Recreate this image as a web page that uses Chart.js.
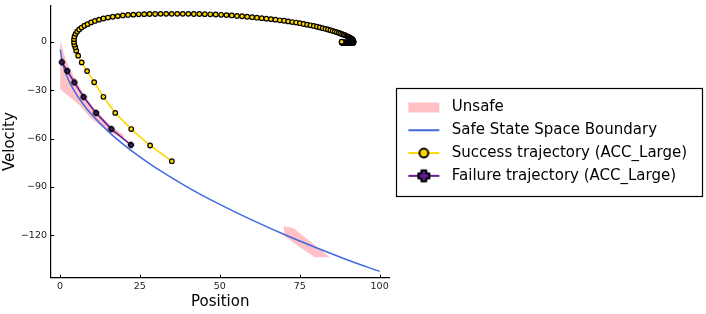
<!DOCTYPE html>
<html>
<head>
<meta charset="utf-8">
<script src="https://cdn.jsdelivr.net/npm/chart.js@4.4.1/dist/chart.umd.min.js"></script>
<style>
  html, body { margin: 0; padding: 0; background: #fff; }
  #wrap { width: 706px; height: 314px; }
</style>
</head>
<body>
<div id="wrap"><canvas id="chart" width="706" height="314"></canvas></div>
<script>
// --- Data ---
const xTicks = [0, 25, 50, 75, 100];
const yTicks = [0, -30, -60, -90, -120];

// unsafe regions (closed polygons)
const unsafeAX = [0.1, 1.5, 3.0, 5.0, 7.5, 10.0, 13.0, 16.5, 20.0, 20.0, 16.0, 13.0, 10.0, 8.0, 6.3, 0.1];
const unsafeAV = [1.0, -9.0, -16.5, -24.0, -32.5, -39.5, -46.5, -53.0, -58.0, -60.0, -56.5, -52.5, -48.0, -43.5, -39.5, -29.5];
const unsafeBX = [70.0, 73.1, 79.4, 84.4, 79.6, 75.2, 70.2];
const unsafeBV = [-114.1, -115.6, -125.4, -133.6, -133.6, -127.5, -120.3];

// safe state space boundary
const boundaryX = [0.1, 0.5, 1, 2, 3, 5, 7.5, 10, 15, 20, 25, 30, 40, 50, 60, 70, 80, 90, 100];
const boundaryV = [-4.8, -9.8, -14.5, -20.4, -25.0, -32.2, -39.3, -45.3, -55.4, -63.9, -71.4, -78.2, -90.2, -100.8, -110.4, -119.3, -127.5, -135.2, -142.3];

// success trajectory
const successX = [
    35.0, 28.2, 22.3, 17.3, 13.6, 10.7, 8.5, 6.8, 5.7, 5.1, 4.8, 4.5, 4.4,
    4.40, 4.56, 4.89, 5.38, 6.01, 6.77, 7.65, 8.64, 9.73, 10.93, 12.22, 13.59, 15.03, 16.53,
    18.08, 19.67, 21.30, 22.96, 24.64, 26.35, 28.06, 29.78, 31.50, 33.23, 34.96, 36.69, 38.42,
    40.15, 41.88, 43.60, 45.32, 47.03, 48.73, 50.42, 52.09, 53.74, 55.37, 56.97, 58.55, 60.10,
    61.62, 63.11, 64.57, 66.00, 67.40, 68.77, 70.10, 71.40, 72.66, 73.88, 75.07, 76.22, 77.32,
    78.38, 79.40, 80.38, 81.31, 82.20, 83.04, 83.84, 84.60, 85.32, 85.99, 86.62, 87.21, 87.76,
    88.27, 88.74, 89.18, 89.59, 89.96, 90.29, 90.59, 90.86, 91.09, 91.29, 91.46, 91.60, 91.71,
    91.79, 91.83, 91.83, 91.80, 91.75, 91.69,
    91.63, 91.57, 91.51, 91.45, 91.39, 91.33, 91.27, 91.21, 91.15, 91.09, 91.03, 90.97, 90.91,
    90.85, 90.79, 90.73, 90.67, 90.61, 90.55, 90.49, 90.43, 90.37, 90.31, 90.25, 90.19, 90.13,
    90.07, 90.01, 89.95, 89.89, 89.83, 89.77, 89.71, 89.65, 89.59, 89.53, 89.47, 89.41, 89.35,
    89.29, 89.23, 89.17, 89.11, 89.05, 88.99, 88.93, 88.87, 88.81, 88.75, 88.69, 88.63, 88.57,
    88.51, 88.45, 88.39, 88.33, 88.27, 88.22, 88.18, 88.15, 88.13, 88.12
];
const successV = [
    -74.0, -64.3, -54.1, -44.1, -34.1, -25.1, -18.2, -12.8, -8.6, -5.5, -3.4, -1.8, -0.2,
    1.6, 3.3, 4.9, 6.3, 7.6, 8.8, 9.9, 10.9, 12.0, 12.9, 13.7, 14.4, 15.0, 15.5,
    15.9, 16.3, 16.6, 16.8, 17.0, 17.1, 17.2, 17.2, 17.3, 17.3, 17.3, 17.3, 17.3,
    17.3, 17.2, 17.2, 17.1, 17.0, 16.9, 16.7, 16.5, 16.3, 16.0, 15.8, 15.5, 15.2,
    14.9, 14.6, 14.3, 14.0, 13.7, 13.3, 13.0, 12.6, 12.2, 11.9, 11.5, 11.0, 10.6,
    10.2, 9.8, 9.3, 8.9, 8.4, 8.0, 7.6, 7.2, 6.7, 6.3, 5.9, 5.5, 5.1,
    4.7, 4.4, 4.1, 3.7, 3.3, 3.0, 2.7, 2.3, 2.0, 1.7, 1.4, 1.1, 0.8,
    0.4, 0.0, -0.3, -0.5, -0.6, -0.6,
    -0.6, -0.6, -0.6, -0.6, -0.6, -0.6, -0.6, -0.6, -0.6, -0.6, -0.6, -0.6, -0.6,
    -0.6, -0.6, -0.6, -0.6, -0.6, -0.6, -0.6, -0.6, -0.6, -0.6, -0.6, -0.6, -0.6,
    -0.6, -0.6, -0.6, -0.6, -0.6, -0.6, -0.6, -0.6, -0.6, -0.6, -0.6, -0.6, -0.6,
    -0.6, -0.6, -0.6, -0.6, -0.6, -0.6, -0.6, -0.6, -0.6, -0.6, -0.6, -0.6, -0.6,
    -0.6, -0.6, -0.6, -0.6, -0.5, -0.4, -0.3, -0.2, -0.1, 0.0
];

// failure trajectory
const failureX = [22.2, 16.1, 11.3, 7.4, 4.5, 2.3, 0.6];
const failureV = [-63.9, -54.1, -44.1, -34.2, -25.2, -18.1, -12.7];

// --- Styles ---
const FONT = "'DejaVu Sans', sans-serif";
const PINK = '#ffc0c6';
const BLUE = '#4169e1';
const GOLD = '#ffd700';
const PURPLE = '#5e1e96';
const ICON_W = 47;

const pts = (xs, ys) => xs.map((x, i) => ({ x, y: ys[i] }));
const fmtTick = v => v < 0 ? '\u2212' + Math.abs(v) : String(v);

function plusPath(g, s, t) {
    g.beginPath();
    g.moveTo(-t, -s); g.lineTo(t, -s); g.lineTo(t, -t); g.lineTo(s, -t);
    g.lineTo(s, t); g.lineTo(t, t); g.lineTo(t, s); g.lineTo(-t, s);
    g.lineTo(-t, t); g.lineTo(-s, t); g.lineTo(-s, -t); g.lineTo(-t, -t);
    g.closePath();
}

function plusMarker(size, lw) {
    const c = document.createElement('canvas');
    c.width = c.height = Math.ceil(size + lw * 2);
    const g = c.getContext('2d');
    g.translate(c.width / 2, c.height / 2);
    plusPath(g, size / 2, size / 4.5);
    g.fillStyle = PURPLE; g.fill();
    g.lineJoin = 'round'; g.lineWidth = lw; g.strokeStyle = '#000'; g.stroke();
    return c;
}

function legendIcon(kind) {
    const c = document.createElement('canvas');
    c.width = ICON_W; c.height = 16;
    const g = c.getContext('2d');
    const x0 = 11, x1 = 42, cy = 8, cx = (x0 + x1) / 2;
    if (kind === 'unsafe') {
        g.fillStyle = PINK;
        g.fillRect(x0, cy - 5, x1 - x0, 10);
        return c;
    }
    const col = kind === 'boundary' ? BLUE : kind === 'success' ? GOLD : PURPLE;
    g.strokeStyle = col; g.lineWidth = 2;
    g.beginPath(); g.moveTo(x0, cy); g.lineTo(x1, cy); g.stroke();
    if (kind === 'success') {
        g.beginPath(); g.arc(cx, cy, 4.4, 0, Math.PI * 2);
        g.fillStyle = GOLD; g.fill();
        g.lineWidth = 2; g.strokeStyle = '#000'; g.stroke();
    } else if (kind === 'failure') {
        g.save(); g.translate(cx, cy);
        plusPath(g, 5.5, 2.4);
        g.fillStyle = PURPLE; g.fill();
        g.lineJoin = 'round'; g.lineWidth = 2; g.strokeStyle = '#000'; g.stroke();
        g.restore();
    }
    return c;
}

const failMarker = plusMarker(5, 1.3);

const legendItems = [
    { text: 'Unsafe', kind: 'unsafe', ds: 0 },
    { text: 'Safe State Space Boundary', kind: 'boundary', ds: 2 },
    { text: 'Success trajectory (ACC_Large)', kind: 'success', ds: 3 },
    { text: 'Failure trajectory (ACC_Large)', kind: 'failure', ds: 4 }
].map(it => ({
    text: it.text,
    pointStyle: legendIcon(it.kind),
    fillStyle: 'transparent',
    strokeStyle: 'transparent',
    lineWidth: 0,
    fontColor: '#000',
    hidden: false,
    datasetIndex: it.ds
}));

// --- Plugins ---
const innerTicks = {
    id: 'innerTicks',
    afterDraw(chart) {
        const { ctx, chartArea: a, scales: { x, y } } = chart;
        ctx.save();
        ctx.strokeStyle = '#000';
        ctx.lineWidth = 1;
        ctx.beginPath();
        x.ticks.forEach(t => {
            const px = Math.round(x.getPixelForValue(t.value)) + 0.5;
            ctx.moveTo(px, a.bottom); ctx.lineTo(px, a.bottom - 3);
        });
        y.ticks.forEach(t => {
            const py = Math.round(y.getPixelForValue(t.value)) + 0.5;
            ctx.moveTo(a.left, py); ctx.lineTo(a.left + 3, py);
        });
        ctx.stroke();
        ctx.restore();
    }
};

const legendFrame = {
    id: 'legendFrame',
    afterDraw(chart) {
        const boxes = chart.legend.legendHitBoxes;
        if (!boxes || !boxes.length) return;
        const first = boxes[0], last = boxes[boxes.length - 1];
        const ctx = chart.ctx;
        const l = Math.round(first.left - 1) + 0.5;
        const t = Math.round(first.top - 11.5) + 0.5;
        const r = chart.width - 3.5;
        const b = Math.round(last.top + last.height + 13) + 0.5;
        ctx.save();
        ctx.strokeStyle = '#000';
        ctx.lineWidth = 1.2;
        ctx.strokeRect(l, t, r - l, b - t);
        ctx.restore();
    }
};

// --- Chart ---
const tickFont = { family: FONT, size: 9.5 };
const titleFont = { family: FONT, size: 15 };

new Chart(document.getElementById('chart'), {
    type: 'scatter',
    data: {
        datasets: [
            {
                label: 'Unsafe', data: pts(unsafeAX, unsafeAV), showLine: true, fill: 'shape',
                backgroundColor: PINK, borderColor: 'transparent', borderWidth: 0, pointRadius: 0, order: 5
            },
            {
                label: 'Unsafe B', data: pts(unsafeBX, unsafeBV), showLine: true, fill: 'shape',
                backgroundColor: PINK, borderColor: 'transparent', borderWidth: 0, pointRadius: 0, order: 4
            },
            {
                label: 'Safe State Space Boundary', data: pts(boundaryX, boundaryV), showLine: true,
                borderColor: BLUE, borderWidth: 1.5, pointRadius: 0, cubicInterpolationMode: 'monotone', order: 3
            },
            {
                label: 'Success trajectory (ACC_Large)', data: pts(successX, successV), showLine: true,
                borderColor: GOLD, borderWidth: 1.6, pointRadius: 2.3, pointBorderWidth: 1.2,
                pointBackgroundColor: GOLD, pointBorderColor: '#000', order: 2
            },
            {
                label: 'Failure trajectory (ACC_Large)', data: pts(failureX, failureV), showLine: true,
                borderColor: PURPLE, borderWidth: 1.6, pointStyle: failMarker, pointRadius: 3, order: 1
            }
        ]
    },
    options: {
        responsive: false,
        animation: false,
        events: [],
        layout: { padding: { left: 0, top: 2.7, right: 8.9, bottom: 0 } },
        scales: {
            x: {
                type: 'linear', min: -2.8, max: 103.1,
                afterBuildTicks: s => { s.ticks = xTicks.map(value => ({ value })); },
                afterFit: s => { s.height = 36.3; s.paddingLeft = 0; s.paddingRight = 0; },
                grid: { display: false, drawTicks: false },
                border: { display: true, color: '#000', width: 1.2 },
                ticks: { color: '#222', font: tickFont, padding: 3.5, maxRotation: 0, callback: fmtTick },
                title: { display: true, text: 'Position', color: '#000', font: titleFont, padding: { top: 0, bottom: 3.3 } }
            },
            y: {
                type: 'linear', min: -146.2, max: 22.4,
                afterBuildTicks: s => { s.ticks = yTicks.map(value => ({ value })); },
                afterFit: s => { s.width = 51; s.paddingTop = 0; s.paddingBottom = 0; },
                grid: { display: false, drawTicks: false },
                border: { display: true, color: '#000', width: 1.2 },
                ticks: { color: '#222', font: tickFont, padding: 4, callback: fmtTick },
                title: { display: true, text: 'Velocity', color: '#000', font: titleFont, padding: { top: 1, bottom: 0 } }
            }
        },
        plugins: {
            tooltip: { enabled: false },
            legend: {
                position: 'right',
                fullSize: false,
                align: 'center',
                maxWidth: 400,
                labels: {
                    usePointStyle: true,
                    pointStyleWidth: ICON_W,
                    padding: 7.8,
                    color: '#000',
                    font: { family: FONT, size: 15 },
                    generateLabels: () => legendItems
                }
            }
        }
    },
    plugins: [innerTicks, legendFrame]
});
</script>
</body>
</html>
